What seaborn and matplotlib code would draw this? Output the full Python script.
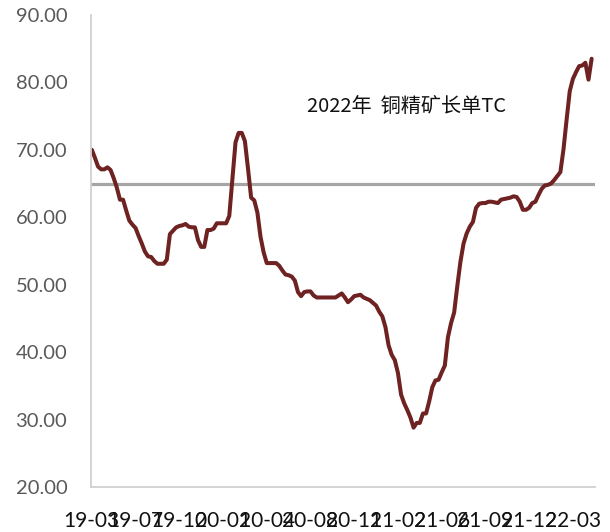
import matplotlib
matplotlib.use("Agg")
import matplotlib.pyplot as plt
import seaborn as sns
import pandas as pd

# Weekly long-term copper concentrate TC (USD/t)
tc_values = [
    70.0, 68.8, 67.5, 67.1, 67.1, 67.4, 67.0, 65.8, 64.4, 62.6,
    62.6, 61.0, 59.5, 58.9, 58.4, 57.2, 56.1, 54.9, 54.2, 54.1,
    53.5, 53.1, 53.1, 53.1, 53.7, 57.5, 58.0, 58.5, 58.7, 58.8,
    59.0, 58.6, 58.5, 58.5, 56.6, 55.6, 55.6, 58.1, 58.1, 58.3,
    59.1, 59.1, 59.1, 59.1, 60.2, 65.6, 71.1, 72.5, 72.5, 71.3,
    67.2, 62.9, 62.5, 60.7, 57.1, 54.8, 53.2, 53.2, 53.2, 53.2,
    52.8, 52.1, 51.5, 51.4, 51.2, 50.6, 48.9, 48.3, 48.9, 49.0,
    49.0, 48.4, 48.1, 48.1, 48.1, 48.1, 48.1, 48.1, 48.1, 48.4,
    48.7, 48.1, 47.4, 47.8, 48.3, 48.4, 48.5, 48.1, 47.9, 47.7,
    47.3, 46.9, 46.0, 45.3, 43.7, 41.0, 39.6, 38.8, 36.9, 33.7,
    32.4, 31.4, 30.3, 28.8, 29.5, 29.5, 30.9, 30.9, 32.7, 34.8,
    35.8, 35.9, 37.0, 38.0, 42.2, 44.3, 45.9, 49.8, 53.4, 56.1,
    57.6, 58.6, 59.3, 61.4, 62.0, 62.1, 62.1, 62.3, 62.3, 62.2,
    62.1, 62.6, 62.7, 62.8, 62.9, 63.1, 63.0, 62.3, 61.1, 61.1,
    61.4, 62.1, 62.3, 63.3, 64.2, 64.7, 64.8, 65.0, 65.5, 66.1,
    66.7, 70.1, 74.5, 78.7, 80.5, 81.5, 82.4, 82.5, 82.9, 80.4,
    83.5,
]
benchmark_2022 = 65.0
benchmark_label = "2022年  铜精矿长单TC"

tick_labels = ["19-03", "19-07", "19-10", "20-01", "20-04", "20-08",
               "20-11", "21-02", "21-06", "21-09", "21-12", "22-03"]
tick_step = 14

y_ticks = [20, 30, 40, 50, 60, 70, 80, 90]

df = pd.DataFrame({"idx": range(len(tc_values)), "tc": tc_values})

sns.set_theme(style="white")
plt.rcParams["font.family"] = ["Lato", "DejaVu Sans"]

fig = plt.figure(figsize=(6.1, 5.32), dpi=100)
ax = fig.add_axes([0.149, 0.0846, 0.826, 0.8874])

ax.axhline(benchmark_2022, color="#A6A6A6", linewidth=2.3, zorder=1)
sns.lineplot(data=df, x="idx", y="tc", ax=ax, color="#6E2222",
             linewidth=2.9, zorder=2)

ax.set_xlim(-0.3, 161.0)
ax.set_ylim(20, 90)
ax.set_yticks(y_ticks)
ax.set_yticklabels([f"{v:.2f}" for v in y_ticks], color="#595959",
                   fontsize=14.5)
ax.set_xticks([i * tick_step for i in range(len(tick_labels))])
ax.set_xticklabels(tick_labels, color="#111111", fontsize=15)
ax.tick_params(axis="y", length=0, pad=17)
ax.tick_params(axis="x", length=0, pad=17)
ax.set_xlabel("")
ax.set_ylabel("")

for side in ("top", "right"):
    ax.spines[side].set_visible(False)
for side in ("left", "bottom"):
    ax.spines[side].set_color("#D0D0D0")
    ax.spines[side].set_linewidth(1.3)

ax.text(0.428, 0.805, benchmark_label, transform=ax.transAxes,
        fontsize=14.5, color="#111111", va="center", ha="left",
        family=["Noto Sans CJK SC", "DejaVu Sans"])

fig.savefig("out.png", dpi=100)
